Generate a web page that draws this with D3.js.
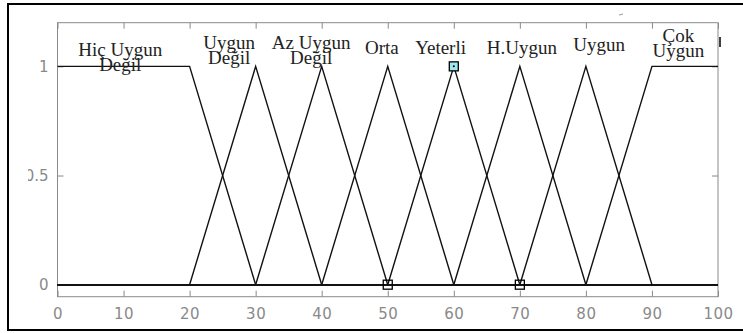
<!DOCTYPE html>
<html>
<head>
<meta charset="utf-8">
<script src="https://cdn.jsdelivr.net/npm/d3@7"></script>
<style>
  html, body { margin: 0; padding: 0; background: #fff; }
  svg { display: block; }
</style>
</head>
<body>
<svg id="chart" width="743" height="333"></svg>
<script>
// ---- data ----
const xTicks = [0, 10, 20, 30, 40, 50, 60, 70, 80, 90, 100];
const yTicks = [0, 0.5, 1];
const yTickLabels = ["0", "0.5", "1"];
const mfNames = [
  ["Hiç Uygun", "Değil"],
  ["Uygun", "Değil"],
  ["Az Uygun", "Değil"],
  ["Orta"],
  ["Yeterli"],
  ["H.Uygun"],
  ["Uygun"],
  ["Çok", "Uygun"]
];
// membership function breakpoints (x) and values (y)
const mfX = [
  [0, 20, 30, 100],
  [0, 20, 30, 40, 100],
  [0, 30, 40, 50, 100],
  [0, 40, 50, 60, 100],
  [0, 50, 60, 70, 100],
  [0, 60, 70, 80, 100],
  [0, 70, 80, 90, 100],
  [0, 80, 90, 100]
];
const mfY = [
  [1, 1, 0, 0],
  [0, 0, 1, 0, 0],
  [0, 0, 1, 0, 0],
  [0, 0, 1, 0, 0],
  [0, 0, 1, 0, 0],
  [0, 0, 1, 0, 0],
  [0, 0, 1, 0, 0],
  [0, 0, 1, 1]
];
// label anchors (data units): centre x, first-line baseline y
const labelX = [9.5, 26, 38.4, 49.1, 58, 70.3, 82, 94];
const labelY = [1.047, 1.080, 1.080, 1.057, 1.057, 1.057, 1.070, 1.110];
// markers
const hollowMarks = [[50, 0], [70, 0]];
const activeMark = [[60, 1]];

// ---- drawing ----
const svg = d3.select("#chart");
const pL = 57.5, pR = 718, pT = 22.7, pB = 296.7;
const x = d3.scaleLinear().domain([0, 100]).range([pL, pR]);
const y = d3.scaleLinear().domain([-0.055, 1.2]).range([pB, pT]);
const gray = "#8a8a8a";

// outer frame
svg.append("rect")
  .attr("x", 8).attr("y", 4).attr("width", 760).attr("height", 326)
  .attr("fill", "none").attr("stroke", "#000").attr("stroke-width", 2);

// axes box
svg.append("rect")
  .attr("x", pL).attr("y", pT).attr("width", pR - pL).attr("height", pB - pT)
  .attr("fill", "none").attr("stroke", gray).attr("stroke-width", 1);

const tl = 6;
const axB = svg.append("g").attr("transform", `translate(0,${pB})`)
  .call(d3.axisBottom(x).tickValues(xTicks).tickSize(-tl).tickPadding(12).tickFormat(d3.format("d")));
const axT = svg.append("g").attr("transform", `translate(0,${pT})`)
  .call(d3.axisTop(x).tickValues(xTicks).tickSize(-tl).tickFormat(""));
const axL = svg.append("g").attr("transform", `translate(${pL},0)`)
  .call(d3.axisLeft(y).tickValues(yTicks).tickSize(-tl).tickPadding(9).tickFormat((d, i) => yTickLabels[i]));
const axR = svg.append("g").attr("transform", `translate(${pR},0)`)
  .call(d3.axisRight(y).tickValues(yTicks).tickSize(-tl).tickFormat(""));
[axB, axT, axL, axR].forEach(a => {
  a.select(".domain").remove();
  a.selectAll(".tick line").attr("stroke", gray);
  a.selectAll("text").attr("fill", gray)
    .style("font-family", "'DejaVu Sans', sans-serif").style("font-size", "15px");
});
axB.selectAll("text").attr("letter-spacing", "0.5px");

// clip the y-label area like the reference (left part of "0.5" cut off)
svg.append("defs").append("clipPath").attr("id", "ylab")
  .append("rect").attr("x", -29.5).attr("y", 0).attr("width", 40).attr("height", 333);
axL.attr("clip-path", "url(#ylab)");

// membership function lines
const line = d3.line().x(d => x(d[0])).y(d => y(d[1]));
mfX.forEach((xs, i) => {
  const pts = xs.map((v, j) => [v, mfY[i][j]]);
  svg.append("path").attr("d", line(pts))
    .attr("fill", "none").attr("stroke", "#111").attr("stroke-width", 1.4);
});

// labels
mfNames.forEach((lines, i) => {
  const t = svg.append("text")
    .attr("x", x(labelX[i])).attr("y", y(labelY[i]))
    .attr("text-anchor", "middle")
    .style("font-family", "'Liberation Serif', 'Times New Roman', serif")
    .style("font-size", "19px").attr("fill", "#222");
  lines.forEach((s, k) => {
    t.append("tspan").attr("x", x(labelX[i])).attr("dy", k === 0 ? 0 : 15).text(s);
  });
});

// markers
const ms = 9;
svg.selectAll(".hm").data(hollowMarks).join("rect")
  .attr("x", d => x(d[0]) - ms / 2).attr("y", d => y(d[1]) - ms / 2)
  .attr("width", ms).attr("height", ms)
  .attr("fill", "none").attr("stroke", "#000").attr("stroke-width", 1.3);
svg.selectAll(".am").data(activeMark).join("rect")
  .attr("x", d => x(d[0]) - ms / 2).attr("y", d => y(d[1]) - ms / 2)
  .attr("width", ms).attr("height", ms)
  .attr("fill", "#9fe8ee").attr("stroke", "#000").attr("stroke-width", 1.3);
svg.selectAll(".ad").data(activeMark).join("circle")
  .attr("cx", d => x(d[0])).attr("cy", d => y(d[1]))
  .attr("r", 1).attr("fill", "#000");

// small stray marks seen in the reference
svg.append("line").attr("x1", 619).attr("x2", 623).attr("y1", 15).attr("y2", 14)
  .attr("stroke", "#999").attr("stroke-width", 1);
svg.append("line").attr("x1", 720).attr("x2", 720).attr("y1", 37).attr("y2", 47)
  .attr("stroke", "#000").attr("stroke-width", 1.5);
</script>
</body>
</html>
